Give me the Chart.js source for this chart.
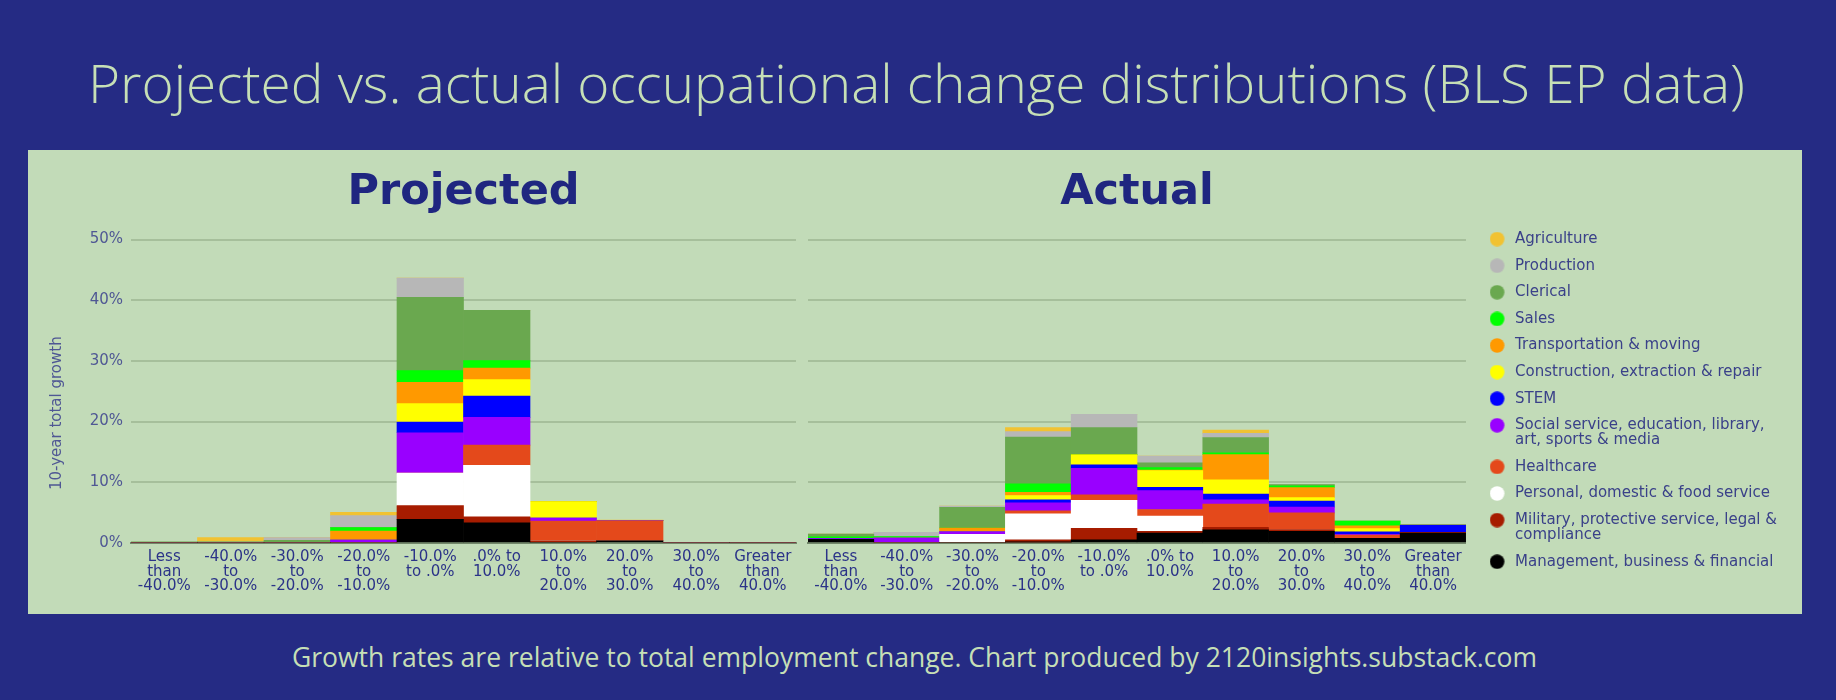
<!DOCTYPE html>
<html>
<head>
<meta charset="utf-8">
<script src="https://cdn.jsdelivr.net/npm/chart.js@4.4.1/dist/chart.umd.min.js"></script>
<style>
html,body{margin:0;padding:0;background:#252b84;width:1836px;height:700px;overflow:hidden;}
#txt{position:absolute;left:0;top:0;}
#panel{position:absolute;left:28px;top:150px;width:1774px;height:464px;background:#c2dbb8;}
#left{position:absolute;left:28px;top:150px;}
#right{position:absolute;left:802px;top:150px;}
</style>
</head>
<body>
<svg id="txt" width="1836" height="700">
  <text x="88" y="103" textLength="1657" lengthAdjust="spacingAndGlyphs" font-family="Open Sans" font-size="54" font-weight="300" fill="#c6dfb6">Projected vs. actual occupational change distributions (BLS EP data)</text>
  <text x="292" y="667" textLength="1245" lengthAdjust="spacingAndGlyphs" font-family="Open Sans" font-size="28" fill="#c6dfb6">Growth rates are relative to total employment change. Chart produced by 2120insights.substack.com</text>
</svg>
<div id="panel"></div>
<canvas id="left" width="774" height="464"></canvas>
<canvas id="right" width="1000" height="464"></canvas>
<script>
// ---------- DATA ----------
const categories = [
  ["Less","than","-40.0%"], ["-40.0%","to","-30.0%"], ["-30.0%","to","-20.0%"], ["-20.0%","to","-10.0%"],
  ["-10.0%","to .0%"], [".0% to","10.0%"], ["10.0%","to","20.0%"], ["20.0%","to","30.0%"],
  ["30.0%","to","40.0%"], ["Greater","than","40.0%"]
];
const yTicks = [0, 10, 20, 30, 40, 50];
const yTitle = "10-year total growth";

// stacking order: bottom -> top
const seriesNames = [
  "Management, business & financial",
  "Military, protective service, legal & compliance",
  "Personal, domestic & food service",
  "Healthcare",
  "Social service, education, library, art, sports & media",
  "STEM",
  "Construction, extraction & repair",
  "Transportation & moving",
  "Sales",
  "Clerical",
  "Production",
  "Agriculture"
];
const legendLines = [
  "Management, business & financial",
  ["Military, protective service, legal &", "compliance"],
  "Personal, domestic & food service",
  "Healthcare",
  ["Social service, education, library,", "art, sports & media"],
  "STEM",
  "Construction, extraction & repair",
  "Transportation & moving",
  "Sales",
  "Clerical",
  "Production",
  "Agriculture"
];

// Projected (% of 10-year total growth)
const projManagement     = [0, 0, 0, 0, 3.87, 3.3, 0, 0.35, 0, 0];
const projMilitary       = [0, 0, 0, 0, 2.27, 1.0, 0.35, 0, 0, 0];
const projPersonal       = [0, 0, 0, 0, 5.37, 8.5, 0, 0, 0, 0];
const projHealthcare     = [0, 0, 0, 0, 0, 3.3, 3.25, 3.3, 0, 0];
const projSocial         = [0, 0, 0, 0.45, 6.64, 4.6, 0.5, 0, 0, 0];
const projSTEM           = [0, 0, 0, 0, 1.77, 3.5, 0, 0, 0, 0];
const projConstruction   = [0, 0, 0, 0, 3.04, 2.7, 2.7, 0, 0, 0];
const projTransportation = [0, 0, 0, 1.5, 3.49, 1.9, 0, 0, 0, 0];
const projSales          = [0, 0, 0, 0.55, 1.94, 1.25, 0, 0, 0, 0];
const projClerical       = [0.1, 0.15, 0.4, 0, 12.1, 8.3, 0, 0, 0, 0];
const projProduction     = [0, 0, 0.45, 2.0, 3.15, 0, 0, 0, 0, 0];
const projAgriculture    = [0, 0.7, 0, 0.55, 0, 0, 0, 0.1, 0, 0];

// Actual
const actManagement      = [0.6, 0, 0, 0.1, 0.5, 1.6, 2.15, 1.9, 0.75, 1.6];
const actMilitary        = [0, 0, 0, 0.4, 1.9, 0.3, 0.4, 0.3, 0, 0.15];
const actPersonal        = [0, 0, 1.4, 4.3, 4.6, 2.5, 0, 0, 0, 0];
const actHealthcare      = [0, 0, 0, 0.5, 0.9, 1.1, 3.85, 2.75, 0.55, 0];
const actSocial          = [0.1, 0.8, 0.4, 1.3, 4.4, 3.1, 0.7, 0.95, 0.1, 0];
const actSTEM            = [0, 0, 0, 0.5, 0.55, 0.55, 0.95, 1.0, 0.4, 1.2];
const actConstruction    = [0, 0, 0, 0.7, 1.65, 2.75, 2.35, 0.55, 0.55, 0];
const actTransportation  = [0, 0, 0.65, 0.55, 0, 0.1, 4.15, 1.65, 0.45, 0];
const actSales           = [0.3, 0.25, 0, 1.4, 0.1, 0.4, 0.3, 0.3, 0.8, 0];
const actClerical        = [0.45, 0, 3.4, 7.7, 4.4, 0.8, 2.5, 0.2, 0, 0];
const actProduction      = [0, 0.7, 0.2, 0.9, 2.2, 1.1, 0.7, 0, 0, 0];
const actAgriculture     = [0, 0, 0, 0.65, 0, 0, 0.55, 0, 0, 0];

const projectedSeries = [projManagement, projMilitary, projPersonal, projHealthcare, projSocial, projSTEM,
  projConstruction, projTransportation, projSales, projClerical, projProduction, projAgriculture];
const actualSeries = [actManagement, actMilitary, actPersonal, actHealthcare, actSocial, actSTEM,
  actConstruction, actTransportation, actSales, actClerical, actProduction, actAgriculture];

// ---------- STYLES ----------
const colors = ["#000000", "#a61c00", "#ffffff", "#e4491b", "#9900ff", "#0000ff",
  "#ffff00", "#ff9900", "#00ff00", "#6aa84f", "#b7b7b7", "#f1c232"];

const FONT = "DejaVu Sans";
const gridColor = c => (c.tick && c.tick.value === 0) ? "#72876a" : "#a6bf9b";

function makeDatasets(series) {
  return seriesNames.map((name, i) => ({
    label: name,
    data: series[i],
    backgroundColor: colors[i],
    borderWidth: 0,
    barPercentage: 1,
    categoryPercentage: 1
  }));
}

function dot(color) {
  const c = document.createElement("canvas");
  c.width = 21; c.height = 15;
  const g = c.getContext("2d");
  g.fillStyle = color;
  g.beginPath(); g.arc(7.5, 7.5, 7.3, 0, Math.PI * 2); g.fill();
  return c;
}

// let the vertical legend take the width its labels need
const wideLegend = {
  id: "wideLegend",
  afterInit(chart) {
    const lg = chart.legend;
    if (!lg) return;
    const fit = lg.fit;
    lg.fit = function () { this.maxWidth = Math.max(this.maxWidth, 420); return fit.apply(this, arguments); };
  }
};

// draws the y-axis title a little below the axis centre, as in the original
const yTitlePlugin = {
  id: "yTitlePlugin",
  afterDraw(chart) {
    const s = chart.scales.y;
    const ctx = chart.ctx;
    ctx.save();
    ctx.font = "15px '" + FONT + "'";
    ctx.fillStyle = "#4f5794";
    ctx.textAlign = "center";
    ctx.textBaseline = "middle";
    ctx.translate(s.left + 29, (s.top + s.bottom) / 2 + 22);
    ctx.rotate(-Math.PI / 2);
    ctx.fillText(yTitle, 0, 0);
    ctx.restore();
  }
};

function baseOptions(titleText) {
  return {
    responsive: false,
    animation: false,
    devicePixelRatio: 1,
    layout: { padding: { left: 0, right: 6, top: 0, bottom: 13.5 } },
    plugins: {
      title: {
        display: true, text: titleText, fullSize: false, color: "#1f2680",
        font: { family: FONT, size: 43, weight: "bold", lineHeight: 1.2 },
        padding: { top: 17, bottom: 21 }
      },
      legend: { display: false },
      tooltip: { enabled: false }
    },
    scales: {
      x: {
        stacked: true,
        grid: { display: false, drawTicks: false },
        border: { display: true, color: "#72876a", width: 2 },
        ticks: { color: "#2b3388", font: { family: FONT, size: 15, lineHeight: 0.97 }, padding: 7, maxRotation: 0, minRotation: 0, autoSkip: false }
      },
      y: {
        stacked: true, min: yTicks[0], max: yTicks[yTicks.length - 1],
        afterBuildTicks: s => { s.ticks = yTicks.map(v => ({ value: v })); },
        grid: { color: gridColor, lineWidth: 2, drawTicks: false },
        border: { display: false },
        ticks: { color: "#4f5794", font: { family: FONT, size: 15 }, padding: 8, callback: v => v + "%" },
        afterFit: s => { s.width = 103; }
      }
    }
  };
}

// Left: Projected
new Chart(document.getElementById("left"), {
  type: "bar",
  data: { labels: categories, datasets: makeDatasets(projectedSeries) },
  options: baseOptions("Projected"),
  plugins: [yTitlePlugin]
});

// Right: Actual
const ro = baseOptions("Actual");
ro.layout.padding.right = 15;
ro.scales.y.ticks.display = false;
ro.scales.y.afterFit = s => { s.width = 6; };
ro.scales.y2 = {
  position: "right", display: true, min: 0, max: 50,
  grid: { display: false, drawTicks: false }, border: { display: false },
  ticks: { display: false },
  afterFit: s => { s.width = 15; }
};
ro.plugins.legend = {
  display: true, position: "right", align: "start", reverse: true,
  title: { display: true, text: "", font: { family: FONT, size: 10, lineHeight: 1 }, padding: { top: 30, bottom: 30 } },
  labels: {
    usePointStyle: true, boxWidth: 15, padding: 11.6, color: "#3a4189",
    font: { family: FONT, size: 15, lineHeight: 1.0 },
    generateLabels: chart => {
      const items = Chart.defaults.plugins.legend.labels.generateLabels(chart);
      return items.map(it => {
        it.text = legendLines[it.datasetIndex];
        it.pointStyle = dot(colors[it.datasetIndex]);
        it.lineWidth = 0;
        return it;
      });
    }
  }
};
new Chart(document.getElementById("right"), {
  type: "bar",
  data: { labels: categories, datasets: makeDatasets(actualSeries) },
  options: ro,
  plugins: [wideLegend]
});
</script>
</body>
</html>
